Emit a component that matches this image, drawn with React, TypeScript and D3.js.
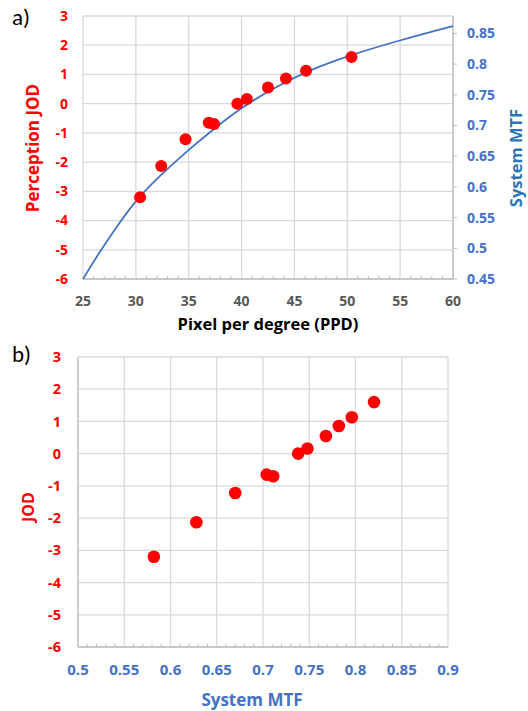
import * as d3 from "d3";

const ppd = [30.4, 32.4, 34.7, 36.9, 37.4, 39.6, 40.5, 42.5, 44.2, 46.1, 50.4];
const jod = [-3.2, -2.13, -1.22, -0.65, -0.7, 0.0, 0.16, 0.55, 0.86, 1.13, 1.6];
const mtf = [0.582, 0.628, 0.67, 0.704, 0.711, 0.738, 0.748, 0.768, 0.782, 0.796, 0.82];

// Blue model curve: system MTF vs PPD
const curvePpd = [25, 26.6, 28.5, 30, 32, 35, 37.7, 40, 42.7, 46.2, 50.3, 55, 60];
const curveMtf = [0.45, 0.495, 0.543, 0.578, 0.614, 0.661, 0.699, 0.729, 0.758, 0.789, 0.815, 0.839, 0.862];

const jodTicks = [3, 2, 1, 0, -1, -2, -3, -4, -5, -6];
const ppdTicks = [25, 30, 35, 40, 45, 50, 55, 60];
const mtfRightTicks = [0.45, 0.5, 0.55, 0.6, 0.65, 0.7, 0.75, 0.8, 0.85];
const mtfBottomTicks = [0.5, 0.55, 0.6, 0.65, 0.7, 0.75, 0.8, 0.85, 0.9];

const font = "'Open Sans', sans-serif";
const red = "#ff0000";
const blue = "#4472c4";
const titleBlue = "#2e75b6";
const grid = "#d9d9d9";
const axisGray = "#bfbfbf";

const fmt = (v: number) => String(+v.toFixed(2));

function PanelA() {
  const left = 83, right = 453, top = 16, bottom = 279;
  const x = d3.scaleLinear().domain([25, 60]).range([left, right]);
  const y = d3.scaleLinear().domain([-6, 3]).range([bottom, top]);
  const yR = d3.scaleLinear().domain([0.45, 0.45 + (bottom - top) / 614]).range([bottom, top]);
  const line = d3
    .line<number>()
    .x((_, i) => x(curvePpd[i]))
    .y((d) => yR(d))
    .curve(d3.curveBasis);
  const minor = d3.range(26, 60).filter((v) => v % 5 !== 0);
  return (
    <g>
      <text x={12} y={25} fontSize={23} fontFamily="Calibri, 'Open Sans', sans-serif">a)</text>
      {jodTicks.map((t) => (
        <line key={"h" + t} x1={left} x2={right} y1={y(t)} y2={y(t)} stroke={grid} strokeWidth={1.3} />
      ))}
      {ppdTicks.map((t) => (
        <line key={"v" + t} x1={x(t)} x2={x(t)} y1={top} y2={bottom} stroke={grid} strokeWidth={1.3} />
      ))}
      <line x1={left} x2={right} y1={bottom} y2={bottom} stroke={axisGray} strokeWidth={1.3} />
      <line x1={right} x2={right} y1={top} y2={bottom} stroke={axisGray} strokeWidth={1.3} />
      {minor.map((t) => (
        <line key={"m" + t} x1={x(t)} x2={x(t)} y1={bottom} y2={bottom - 3} stroke={axisGray} />
      ))}
      {mtfRightTicks.map((t) => (
        <line key={"r" + t} x1={right} x2={right + 4} y1={yR(t)} y2={yR(t)} stroke={axisGray} />
      ))}
      <path d={line(curveMtf) ?? ""} fill="none" stroke={blue} strokeWidth={1.8} />
      {ppd.map((p, i) => (
        <circle key={i} cx={x(p)} cy={y(jod[i])} r={6} fill={red} />
      ))}
      {jodTicks.map((t) => (
        <text key={"yl" + t} x={68} y={y(t)} dy="0.35em" textAnchor="end" fill={red}
          fontSize={14} fontWeight={700} fontFamily={font}>{t}</text>
      ))}
      {mtfRightTicks.map((t) => (
        <text key={"rl" + t} x={467} y={yR(t)} dy="0.35em" fill={blue}
          fontSize={14} fontWeight={700} fontFamily={font}>{fmt(t)}</text>
      ))}
      {ppdTicks.map((t) => (
        <text key={"xl" + t} x={x(t)} y={301} dy="0.35em" textAnchor="middle" fill="#595959"
          fontSize={14} fontWeight={700} fontFamily={font}>{t}</text>
      ))}
      <text x={268} y={324} dy="0.35em" textAnchor="middle" fill="#000" fontSize={16.5}
        fontWeight={700} fontFamily={font}>Pixel per degree (PPD)</text>
      <text transform={`translate(33,148) rotate(-90)`} dy="0.35em" textAnchor="middle" fill={red}
        fontSize={17} fontWeight={700} fontFamily={font}>Perception JOD</text>
      <text transform={`translate(516,158) rotate(-90)`} dy="0.35em" textAnchor="middle" fill={titleBlue}
        fontSize={16.5} fontWeight={700} fontFamily={font}>System MTF</text>
    </g>
  );
}

function PanelB() {
  const left = 78, right = 448, top = 357, bottom = 647;
  const x = d3.scaleLinear().domain([0.5, 0.9]).range([left, right]);
  const y = d3.scaleLinear().domain([-6, 3]).range([bottom, top]);
  const minor = d3.range(51, 90).filter((v) => v % 5 !== 0).map((v) => v / 100);
  return (
    <g>
      <text x={12} y={362} fontSize={23} fontFamily="Calibri, 'Open Sans', sans-serif">b)</text>
      {jodTicks.map((t) => (
        <line key={"h" + t} x1={left} x2={right} y1={y(t)} y2={y(t)} stroke={grid} strokeWidth={1.3} />
      ))}
      {mtfBottomTicks.map((t) => (
        <line key={"v" + t} x1={x(t)} x2={x(t)} y1={top} y2={bottom} stroke={grid} strokeWidth={1.3} />
      ))}
      <line x1={left} x2={left} y1={top} y2={bottom} stroke={axisGray} strokeWidth={1.3} />
      <line x1={left} x2={right} y1={bottom} y2={bottom} stroke={axisGray} strokeWidth={1.3} />
      {minor.map((t) => (
        <line key={"m" + t} x1={x(t)} x2={x(t)} y1={bottom} y2={bottom - 3} stroke={axisGray} />
      ))}
      {mtf.map((m, i) => (
        <circle key={i} cx={x(m)} cy={y(jod[i])} r={6.3} fill={red} />
      ))}
      {jodTicks.map((t) => (
        <text key={"yl" + t} x={61} y={y(t)} dy="0.35em" textAnchor="end" fill={red}
          fontSize={14.5} fontWeight={700} fontFamily={font}>{t}</text>
      ))}
      {mtfBottomTicks.map((t) => (
        <text key={"xl" + t} x={x(t)} y={670} dy="0.35em" textAnchor="middle" fill={blue}
          fontSize={15} fontWeight={700} fontFamily={font}>{fmt(t)}</text>
      ))}
      <text x={252} y={700} dy="0.35em" textAnchor="middle" fill={blue} fontSize={17}
        fontWeight={700} fontFamily={font}>System MTF</text>
      <text transform={`translate(28,507) rotate(-90)`} dy="0.35em" textAnchor="middle" fill={red}
        fontSize={16} fontWeight={700} fontFamily={font}>JOD</text>
    </g>
  );
}

export default function App() {
  return (
    <div style={{ position: "absolute", left: 0, top: 0 }}>
      <svg width={528} height={711} viewBox="0 0 528 711" style={{ display: "block", background: "#fff" }}>
        <PanelA />
        <PanelB />
      </svg>
    </div>
  );
}
